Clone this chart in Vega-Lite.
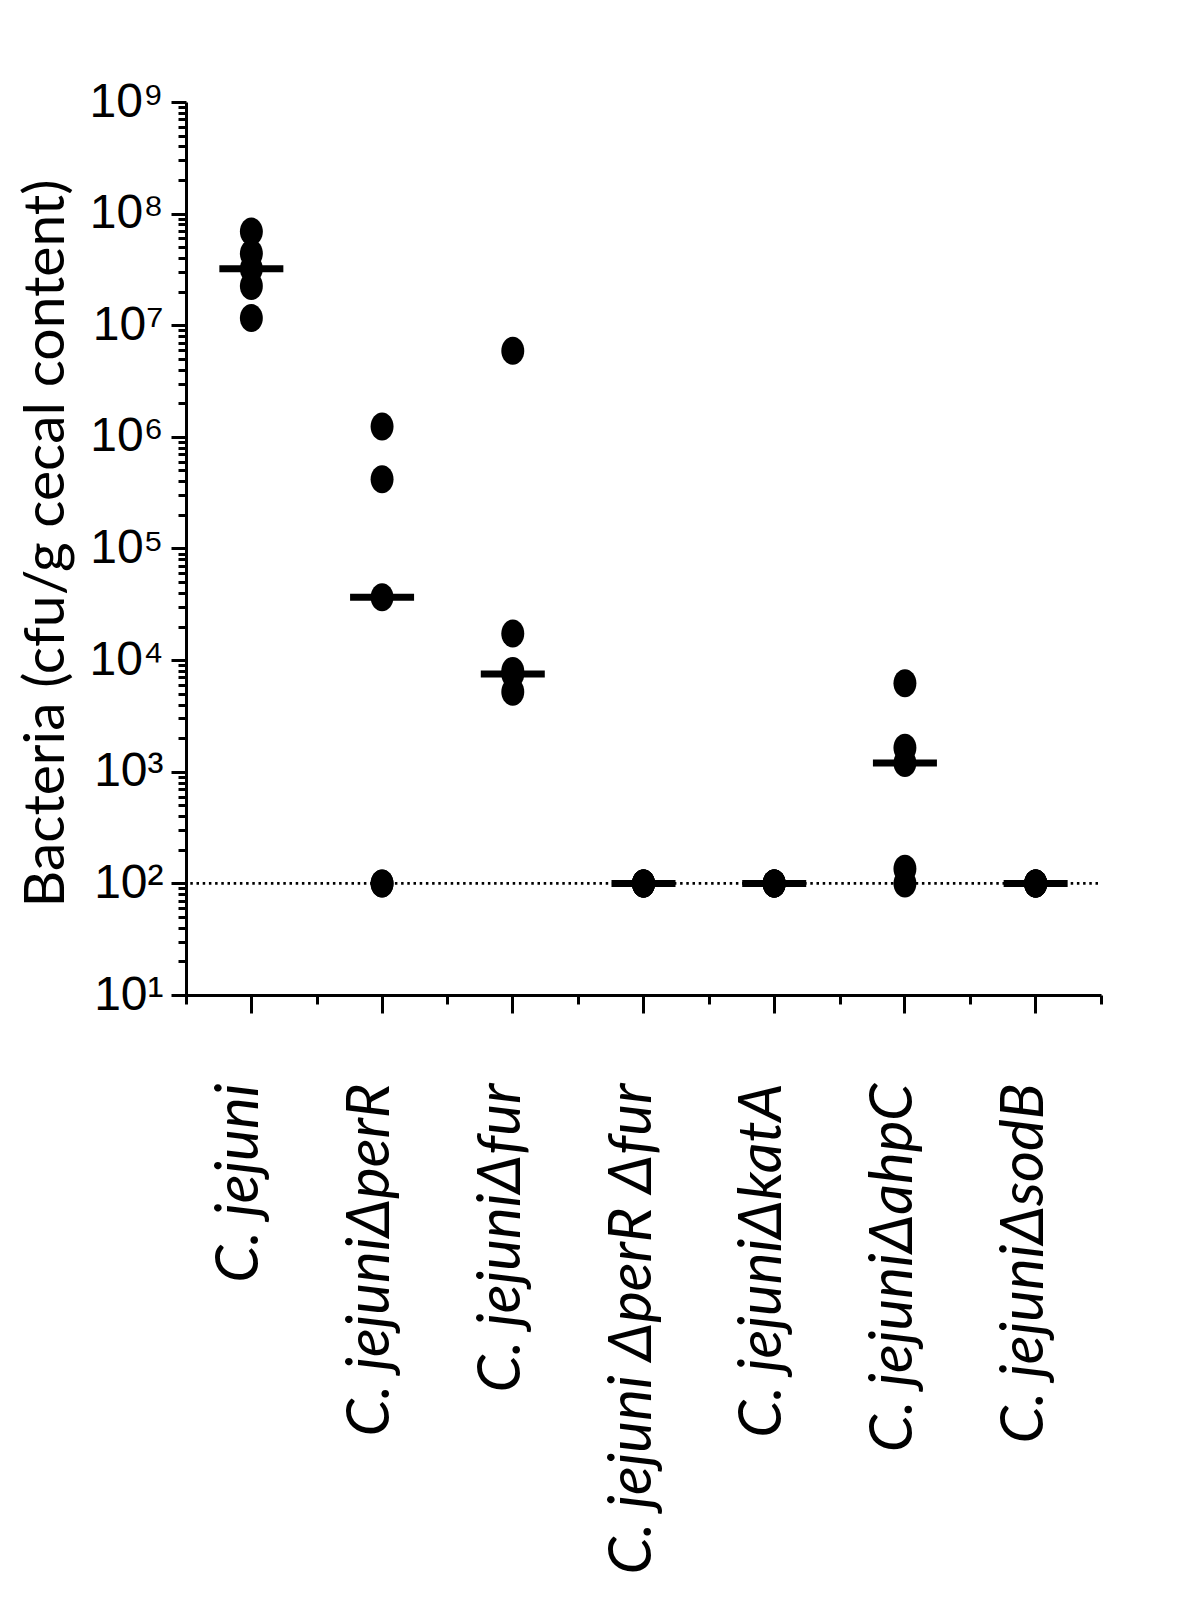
{
  "$schema": "https://vega.github.io/schema/vega-lite/v6.json",
  "autosize": {"type": "none"},
  "padding": {"left": 186, "top": 102, "right": 99, "bottom": 628},
  "width": 915,
  "height": 893,
  "background": "white",
  "config": {"view": {"stroke": null}, "axis": {"grid": false, "domainColor": "black", "tickColor": "black", "labelColor": "black", "titleColor": "black"}},
  "datasets": {
    "points": [
      {"strain": "C. jejuni", "cfu": 69000000},
      {"strain": "C. jejuni", "cfu": 44000000},
      {"strain": "C. jejuni", "cfu": 32000000},
      {"strain": "C. jejuni", "cfu": 22500000},
      {"strain": "C. jejuni", "cfu": 11600000},
      {"strain": "C. jejuniΔperR", "cfu": 1240000},
      {"strain": "C. jejuniΔperR", "cfu": 417000},
      {"strain": "C. jejuniΔperR", "cfu": 36500},
      {"strain": "C. jejuniΔperR", "cfu": 100},
      {"strain": "C. jejuniΔperR", "cfu": 100},
      {"strain": "C. jejuniΔfur", "cfu": 5900000},
      {"strain": "C. jejuniΔfur", "cfu": 17300},
      {"strain": "C. jejuniΔfur", "cfu": 8000},
      {"strain": "C. jejuniΔfur", "cfu": 7500},
      {"strain": "C. jejuniΔfur", "cfu": 5200},
      {"strain": "C. jejuni ΔperR Δfur", "cfu": 100},
      {"strain": "C. jejuni ΔperR Δfur", "cfu": 100},
      {"strain": "C. jejuni ΔperR Δfur", "cfu": 100},
      {"strain": "C. jejuni ΔperR Δfur", "cfu": 100},
      {"strain": "C. jejuni ΔperR Δfur", "cfu": 100},
      {"strain": "C. jejuniΔkatA", "cfu": 100},
      {"strain": "C. jejuniΔkatA", "cfu": 100},
      {"strain": "C. jejuniΔkatA", "cfu": 100},
      {"strain": "C. jejuniΔkatA", "cfu": 100},
      {"strain": "C. jejuniΔkatA", "cfu": 100},
      {"strain": "C. jejuniΔahpC", "cfu": 6200},
      {"strain": "C. jejuniΔahpC", "cfu": 1640},
      {"strain": "C. jejuniΔahpC", "cfu": 1200},
      {"strain": "C. jejuniΔahpC", "cfu": 135},
      {"strain": "C. jejuniΔahpC", "cfu": 100},
      {"strain": "C. jejuniΔsodB", "cfu": 100},
      {"strain": "C. jejuniΔsodB", "cfu": 100},
      {"strain": "C. jejuniΔsodB", "cfu": 100},
      {"strain": "C. jejuniΔsodB", "cfu": 100},
      {"strain": "C. jejuniΔsodB", "cfu": 100}
    ],
    "medians": [
      {"strain": "C. jejuni", "median": 32000000},
      {"strain": "C. jejuniΔperR", "median": 36500},
      {"strain": "C. jejuniΔfur", "median": 7500},
      {"strain": "C. jejuni ΔperR Δfur", "median": 100},
      {"strain": "C. jejuniΔkatA", "median": 100},
      {"strain": "C. jejuniΔahpC", "median": 1200},
      {"strain": "C. jejuniΔsodB", "median": 100}
    ],
    "limit": [{"limit": 100}]
  },
  "resolve": {"axis": {"x": "independent", "y": "independent"}},
  "layer": [
    {
      "data": {"name": "limit"},
      "mark": {"type": "rule", "color": "black", "strokeWidth": 2.7, "strokeDash": [2.5, 3.7], "strokeDashOffset": -3},
      "encoding": {
        "y": {"field": "limit", "type": "quantitative", "scale": {"type": "log", "domain": [10, 1000000000]}, "axis": null}
      }
    },
    {
      "data": {"name": "points"},
      "mark": {"type": "point", "filled": true, "color": "black", "opacity": 1, "strokeWidth": 0, "size": 784, "shape": "M0,-1A0.82,1 0 1,1 0,1A0.82,1 0 1,1 0,-1Z"},
      "encoding": {
        "x": {
          "field": "strain", "type": "nominal",
          "scale": {"type": "band", "domain": ["C. jejuni", "C. jejuniΔperR", "C. jejuniΔfur", "C. jejuni ΔperR Δfur", "C. jejuniΔkatA", "C. jejuniΔahpC", "C. jejuniΔsodB"], "paddingInner": 0, "paddingOuter": 0},
          "axis": {"orient": "bottom", "title": null, "domain": true, "domainWidth": 3, "ticks": true, "tickSize": 18, "tickWidth": 3, "tickBand": "center", "labelAngle": 270, "labelAlign": "right", "labelBaseline": "middle", "labelFont": "Lato", "labelFontStyle": "italic", "labelFontSize": 60, "labelPadding": 70, "labelLimit": 1000, "labelOffset": -11}
        },
        "y": {
          "field": "cfu", "type": "quantitative",
          "scale": {"type": "log", "domain": [10, 1000000000]},
          "axis": {
            "orient": "left",
            "values": [10, 100, 1000, 10000, 100000, 1000000, 10000000, 100000000, 1000000000],
            "domain": true, "domainWidth": 3, "ticks": true, "tickSize": 15, "tickWidth": 3,
            "labelExpr": "'10' + ['⁰','¹','²','³','⁴','⁵','⁶','⁷','⁸','⁹'][round(log(datum.value)/LN10)]",
            "labelFont": "Liberation Sans", "labelFontSize": 48, "labelPadding": 8, "labelAlign": "right", "labelBaseline": "middle", "labelOverlap": false,
            "title": "Bacteria (cfu/g cecal content)", "titleFont": "Lato", "titleFontSize": 57, "titleFontWeight": "normal",
            "titleX": -140, "titleY": 441, "titleAngle": 270, "titleAlign": "center", "titleBaseline": "middle"
          }
        }
      }
    },
    {
      "data": {"name": "medians"},
      "mark": {"type": "tick", "color": "black", "opacity": 1, "size": 64, "thickness": 7, "orient": "horizontal"},
      "encoding": {
        "x": {
          "field": "strain", "type": "nominal",
          "scale": {"type": "band", "domain": ["C. jejuni", "C. jejuniΔperR", "C. jejuniΔfur", "C. jejuni ΔperR Δfur", "C. jejuniΔkatA", "C. jejuniΔahpC", "C. jejuniΔsodB"], "paddingInner": 0, "paddingOuter": 0},
          "axis": {"orient": "bottom", "title": null, "domain": false, "labels": false, "ticks": true, "tickSize": 9, "tickWidth": 3, "tickBand": "extent"}
        },
        "y": {
          "field": "median", "type": "quantitative",
          "scale": {"type": "log", "domain": [10, 1000000000]},
          "axis": {
            "orient": "left", "title": null, "domain": false, "labels": false, "ticks": true, "tickSize": 8, "tickWidth": 3,
            "values": [20,30,40,50,60,70,80,90,200,300,400,500,600,700,800,900,2000,3000,4000,5000,6000,7000,8000,9000,20000,30000,40000,50000,60000,70000,80000,90000,200000,300000,400000,500000,600000,700000,800000,900000,2000000,3000000,4000000,5000000,6000000,7000000,8000000,9000000,20000000,30000000,40000000,50000000,60000000,70000000,80000000,90000000,200000000,300000000,400000000,500000000,600000000,700000000,800000000,900000000]
          }
        }
      }
    }
  ]
}
